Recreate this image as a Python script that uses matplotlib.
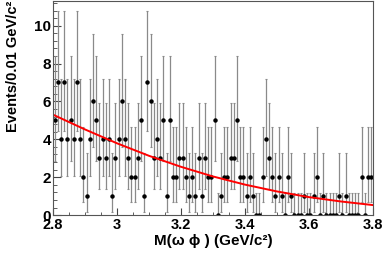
import numpy as np
import matplotlib
matplotlib.use("Agg")
from matplotlib import pyplot as plt
from matplotlib.ticker import MultipleLocator

# bin centres 2.805 ... 3.795 (100 bins of 0.01)
bin_lo = 2.80
bin_width = 0.01
counts = [5, 7, 4, 7, 4, 5, 4, 7, 4, 2,
          1, 4, 6, 5, 3, 4, 3, 4, 1, 3,
          4, 6, 4, 3, 2, 2, 3, 5, 1, 7,
          6, 3, 4, 3, 5, 1, 5, 2, 2, 3,
          3, 2, 1, 2, 1, 3, 1, 3, 2, 2,
          5, 0, 1, 2, 2, 3, 3, 5, 2, 2,
          1, 2, 1, 0, 0, 2, 4, 3, 2, 1,
          2, 1, 0, 2, 1, 0, 0, 0, 1, 0,
          0, 1, 2, 0, 1, 0, 0, 0, 0, 1,
          0, 1, 0, 0, 0, 0, 2, 0, 2, 2]

# poisson interval ends (low, high) for n = 0..7
poisson_lo = [0.0, 0.173, 0.708, 1.367, 2.086, 2.840, 3.620, 4.419]
poisson_hi = [1.148, 3.300, 4.638, 5.918, 7.163, 8.382, 9.584, 10.77]

# fitted background curve, read every 0.1 GeV
fit_x = [2.8, 2.9, 3.0, 3.1, 3.2, 3.3, 3.4, 3.5, 3.6, 3.7, 3.8]
fit_y = [5.30, 4.52, 3.79, 3.13, 2.55, 2.04, 1.61, 1.25, 0.95, 0.72, 0.53]

x = bin_lo + bin_width * (np.arange(len(counts)) + 0.5)
n = np.array(counts)
err_lo = n - np.array(poisson_lo)[n]
err_hi = np.array(poisson_hi)[n] - n

plt.rcParams['font.family'] = ['Liberation Sans', 'DejaVu Sans']
plt.rcParams['font.weight'] = 'bold'

fig = plt.figure(figsize=(3.82, 2.57), dpi=100)
ax = fig.add_axes([0.139, 0.163, 0.837, 0.833])

ax.errorbar(x, n, yerr=[err_lo, err_hi], fmt='none', ecolor='#8a8a8a',
            elinewidth=0.9, capsize=1.0, capthick=0.8)
ax.plot(x, n, 'o', color='black', markersize=2.2)
ax.plot(fit_x, fit_y, color='red', lw=1.4)

ax.set_xlim(2.8, 3.8)
ax.set_ylim(0, 11.3)
ax.xaxis.set_major_locator(MultipleLocator(0.2))
ax.xaxis.set_minor_locator(MultipleLocator(0.05))
ax.yaxis.set_major_locator(MultipleLocator(2))
ax.yaxis.set_minor_locator(MultipleLocator(0.4))
ax.set_xticks([2.8, 3.0, 3.2, 3.4, 3.6, 3.8])
ax.set_xticklabels(['2.8', '3', '3.2', '3.4', '3.6', '3.8'])
ax.tick_params(axis='both', which='both', direction='in', color='#444444')
ax.tick_params(axis='y', which='major', length=6, pad=1.5, labelsize=11)
ax.tick_params(axis='y', which='minor', length=3)
ax.tick_params(axis='x', which='major', length=5, pad=2, labelsize=10.5)
ax.tick_params(axis='x', which='minor', length=2.5)
for s in ax.spines.values():
    s.set_color('#555555')
    s.set_linewidth(0.8)

ax.set_xlabel('M(ω ϕ ) (GeV/c²)', fontsize=11, fontweight='bold')
ax.xaxis.set_label_coords(0.5, -0.09)
ax.set_ylabel('Events/0.01 GeV/c²', fontsize=10.5, fontweight='bold', loc='top')
ax.yaxis.set_label_coords(-0.105, 1.0)

fig.savefig('out.png', dpi=100)
